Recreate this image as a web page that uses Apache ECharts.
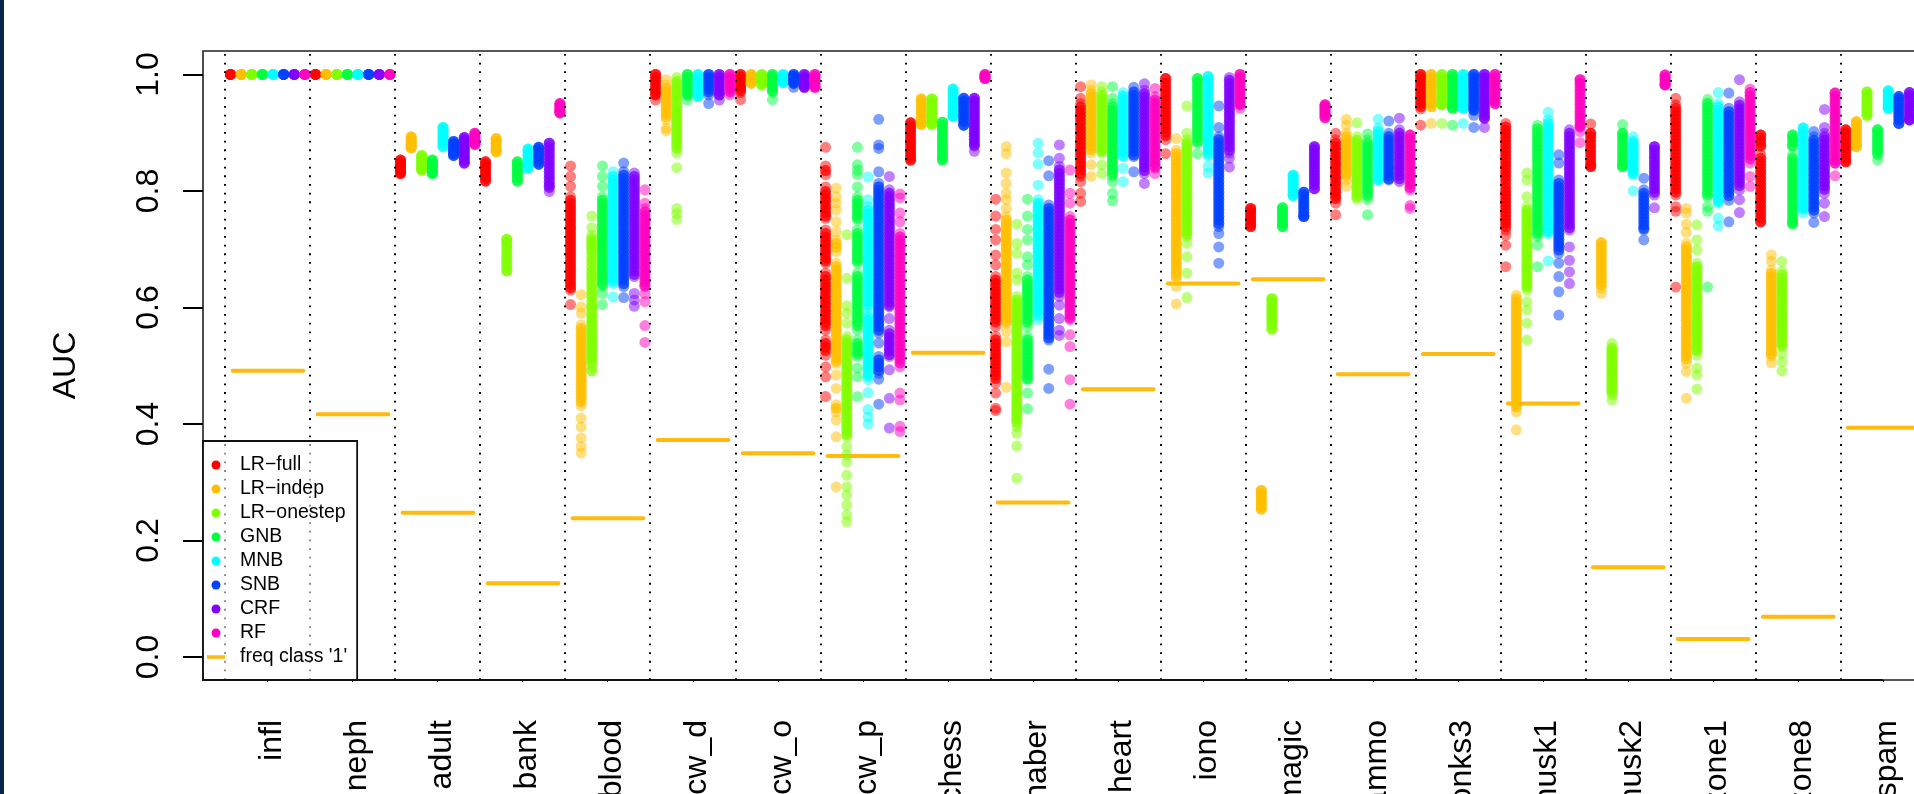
<!DOCTYPE html>
<html>
<head>
<meta charset="utf-8">
<style>
html,body{margin:0;padding:0;background:#fff;overflow:hidden}
#strip{position:absolute;left:0;top:0;width:3.5px;height:794px;background:#0a2450;z-index:5}
#main{position:absolute;left:0;top:0;width:1914px;height:794px}
</style>
<script src="https://cdn.jsdelivr.net/npm/echarts@6/dist/echarts.min.js"></script>
</head>
<body>
<div id="strip"></div>
<div id="main"></div>
<script>
const categories = ["infl","neph","adult","bank","blood","bcw_d","bcw_o","bcw_p","chess","haber","heart","iono","magic","mammo","monks3","musk1","musk2","ozone1","ozone8","spam"];
const methods = ["LR\u2212full","LR\u2212indep","LR\u2212onestep","GNB","MNB","SNB","CRF","RF"];
const methodColors = ["#FF0000","#FFBF00","#80FF00","#00FF40","#00FFFF","#0040FF","#8000FF","#FF00BF"];
const freqClass1 = [.4915,.4166,.2478,.1265,.238,.3725,.3497,.345,.5224,.265,.4595,.641,.6484,.4853,.5202,.435,.154,.031,.069,.3937];
const yTicks = [0,0.2,0.4,0.6,0.8,1];

// AUC x 1000, one list per method (order as in `methods`)
const infl = [[1000,1000,1000,1000],[1000,1000,1000,1000],[1000,1000,1000,1000],[1000,1000,1000,1000],[1000,1000,1000,1000],[1000,1000,1000,1000],[1000,1000,1000,1000],[1000,1000,1000,1000]];
const neph = [[1000,1000,1000,1000],[1000,1000,1000,1000],[1000,1000,1000,1000],[1000,1000,1000,1000],[1000,1000,1000,1000],[1000,1000,1000,1000],[1000,1000,1000,1000],[1000,1000,1000,1000]];
const adult = [
[853,853,850,847,844,841,838,835,832,830,830],
[893,893,890,887,884,881,878,876,874,874],
[861,861,858,855,852,849,846,843,840,838,836,836],
[853,853,850,847,844,841,838,835,832,830,830],
[909,909,905,901,897,893,889,885,881,876,876],
[885,885,882,879,876,873,870,867,864,861,861],
[892,892,888,884,880,876,872,868,864,860,856,852,848,848],
[899,899,896,893,890,887,884,882,880,880]];
const bank = [
[850,850,846,842,838,834,830,826,822,817,817],
[890,890,886,882,878,874,870,867,867],
[717,717,712,706,700,694,688,682,676,670,663,663],
[850,850,846,842,838,834,830,826,822,817,817],
[872,872,868,864,860,856,852,848,844,839,839],
[875,875,871,867,863,859,855,851,846,846],
[882,882,876,870,864,858,852,846,840,834,828,822,816,810,806,799],
[950,950,947,944,941,938,936,934,934]];
const blood = [
[843,825,808,790,784,778,772,766,760,754,748,742,736,730,724,718,712,706,700,694,688,682,676,670,664,658,652,646,640,634,630,605],
[622,601,590,570,564,558,552,546,540,534,528,522,516,510,504,498,492,486,480,474,468,462,456,450,444,438,431,410,395,376,361,350],
[757,737,724,718,712,706,700,693,685,678,670,662,655,648,640,632,625,618,610,603,597,590,584,578,572,566,560,554,548,542,536,530,524,518,512,506,500,491,491],
[843,825,808,790,784,778,772,766,760,754,748,742,736,730,724,718,712,706,700,694,688,682,676,670,664,658,652,646,640,636,624,605],
[833,825,819,813,807,801,795,789,783,777,771,765,759,753,747,741,735,729,723,717,711,705,699,693,687,681,675,669,663,657,651,645,641,618],
[848,833,827,821,815,809,803,797,791,785,779,773,767,761,755,749,743,737,731,725,719,713,707,701,695,689,683,677,671,665,659,653,647,641,636,617],
[831,825,819,813,807,801,795,789,783,777,771,765,759,753,747,741,735,729,723,717,711,705,699,693,687,681,675,669,663,657,653,624,613,602],
[802,779,770,764,758,752,746,740,734,728,722,716,710,704,698,692,686,680,674,668,662,656,650,644,638,636,624,610,569,540]];
const bcw_d = [
[1000,1000,995,990,985,980,975,970,965,965,956],
[991,982,976,970,964,958,952,946,940,934,928,922,908,903],
[995,988,982,976,970,964,958,952,946,940,934,928,922,916,910,904,898,892,886,880,873,865,840,770,761,751],
[1000,1000,995,990,985,980,975,970,965,965,956],
[1000,1000,995,990,985,980,975,970,966,962,962],
[1000,1000,995,990,985,980,975,970,965,950],
[1000,1000,995,990,985,980,975,970,965,965,956],
[1000,1000,995,990,985,980,975,970,965]];
const bcw_o = [
[1000,1000,996,992,988,984,980,976,972,969,957],
[1000,1000,997,994,991,988,985,985],
[1000,1000,997,994,991,988,985,982,982],
[1000,1000,996,992,988,984,980,976,972,970,957],
[1000,1000,997,994,991,988,986,986],
[1000,1000,997,994,991,988,985,985,978],
[1000,1000,996,992,988,984,980,978,978],
[1000,1000,996,992,988,984,980,978,978]];
const bcw_p = [
[875,843,835,828,807,799,793,787,781,775,769,763,757,753,733,727,721,715,709,703,697,691,685,680,676,659,653,647,641,635,629,623,617,611,605,599,593,587,581,575,569,561,544,538,532,526,518,498,481,447],
[805,790,779,767,747,730,716,710,703,696,676,670,664,658,652,646,640,634,628,622,616,610,604,598,592,586,580,574,568,562,556,550,544,538,532,526,520,514,508,504,484,461,433,427,421,407,378,292],
[725,650,603,590,573,550,544,538,532,526,520,514,508,502,496,490,484,478,472,466,460,454,448,442,436,430,424,418,412,406,400,394,388,382,378,361,347,335,312,292,278,261,244,232],
[875,845,836,828,807,790,784,778,772,766,760,754,750,733,727,721,715,709,703,697,691,685,680,676,659,653,647,641,635,629,623,617,611,605,599,593,587,581,575,569,561,544,538,532,526,520,516,496,481,447],
[824,785,773,767,761,755,749,743,737,731,725,719,713,707,701,695,689,683,677,671,665,659,653,647,641,635,629,623,617,611,605,601,590,584,578,572,566,560,554,548,542,536,530,524,518,512,506,500,494,488,482,476,454,425,412,400],
[923,879,873,833,813,807,801,795,789,783,777,771,765,759,753,747,741,735,729,723,717,711,705,699,693,687,681,675,669,663,657,651,645,639,633,627,621,615,609,603,597,591,585,579,573,567,561,556,539,516,510,504,498,492,487,477,434],
[825,802,796,790,784,778,772,766,760,754,748,742,736,730,724,718,712,706,700,694,688,682,676,670,664,658,652,646,640,634,628,622,616,610,604,601,581,561,555,549,543,537,531,525,519,516,493,444,393],
[795,788,762,747,727,721,715,709,703,697,691,685,679,673,667,661,655,649,643,637,631,625,619,613,607,601,595,589,583,577,571,565,559,553,547,541,535,529,523,517,511,505,498,453,441,396,387]];
const chess = [
[917,917,912,907,902,897,892,887,882,877,872,867,862,857,853,853],
[958,958,953,948,943,938,933,928,923,918,914,914],
[958,958,953,948,943,938,933,928,923,918,914,914],
[918,918,913,908,903,898,893,888,883,878,873,868,863,858,853,853],
[975,975,970,965,960,955,950,945,940,935,930,928,928],
[959,959,954,949,944,939,934,929,924,919,913,913],
[959,959,954,949,944,939,934,929,924,919,914,909,904,899,894,889,884,879,877,868],
[1000,1000,997,995,993,993]];
const haber = [
[786,757,734,716,690,673,653,647,641,635,629,623,617,611,605,599,593,587,581,575,567,550,544,538,532,526,520,514,508,502,496,490,484,478,470,453,427,423],
[876,864,831,813,796,785,770,756,750,744,738,732,726,720,714,708,702,696,690,684,678,672,666,660,654,648,642,636,630,624,618,612,606,600,594,588,582,576,573,559,541,463],
[743,710,693,659,647,619,613,607,601,595,589,583,577,571,565,559,553,547,541,535,529,523,517,511,505,499,493,487,481,475,469,463,457,451,445,439,433,427,421,415,409,403,395,384,362,307],
[786,757,734,716,687,673,653,647,641,635,629,623,617,611,605,599,593,587,581,575,567,550,544,538,532,526,520,514,508,502,496,490,484,478,476,453,426],
[882,865,846,810,785,779,773,767,761,755,749,743,737,731,725,719,713,707,701,695,689,683,677,671,665,659,653,647,641,635,629,623,617,611,605,599,593,587,579],
[852,826,776,770,764,758,752,746,740,734,728,722,716,710,704,698,692,686,680,674,668,662,656,650,644,638,632,626,620,614,608,602,596,590,584,578,572,566,560,554,548,544,494,461],
[879,856,842,836,830,824,818,812,806,800,794,788,782,776,770,764,758,752,746,740,734,728,722,716,710,704,698,692,686,680,674,668,662,656,650,644,638,632,626,619,604,581,561,552],
[836,796,779,756,750,744,738,732,726,720,714,708,702,696,690,684,678,672,666,660,654,648,642,636,630,624,618,612,606,600,594,588,582,579,553,533,476,434]];
const heart = [
[979,959,950,944,938,932,926,920,914,908,902,896,890,884,878,872,866,860,854,848,842,836,830,825,816,796,782],
[982,973,967,961,955,949,943,937,931,925,919,913,907,901,895,889,883,877,871,865,845,825],
[979,970,964,958,952,946,940,934,928,922,916,910,904,898,892,886,880,874,868,865,845,830],
[979,959,950,944,938,932,926,920,914,908,902,896,890,884,878,872,866,860,854,848,842,836,830,825,816,796,783],
[969,963,957,951,945,939,933,927,921,915,909,903,897,891,885,879,873,867,861,859,839,816],
[978,970,964,958,952,946,940,934,928,922,916,910,904,898,892,886,880,874,868,862,859,833],
[984,973,967,961,955,949,943,937,931,925,919,913,907,901,895,889,883,877,871,865,859,853,847,841,835,830,813],
[976,962,956,950,944,938,932,926,920,914,908,902,896,890,884,878,872,866,860,854,848,842,839,830]];
const iono = [
[993,993,985,979,973,967,961,955,949,943,937,931,925,919,913,907,901,895,888,864],
[890,870,864,858,852,846,840,834,828,822,816,810,804,798,792,786,780,774,768,762,756,750,744,738,732,726,720,714,708,702,696,690,684,678,672,666,660,654,647,636,606],
[946,899,888,882,876,870,864,858,852,846,840,834,828,822,816,810,804,798,792,786,780,774,768,762,756,750,744,738,732,726,722,710,687,659,617],
[993,993,987,981,975,969,963,957,951,945,939,933,927,921,915,909,903,897,891,885,882,864],
[997,996,990,984,978,972,966,960,954,948,942,936,930,924,918,912,906,900,894,888,882,876,870,864,859,842,831],
[946,909,893,888,882,876,870,864,858,852,846,840,834,828,822,816,810,804,798,792,786,780,774,768,762,756,750,744,739,727,704,676],
[995,990,984,978,972,966,960,954,948,942,936,930,924,918,912,906,900,894,888,882,876,870,865,856,841],
[1000,1000,995,990,985,980,975,970,965,960,955,950,948,942]];
const magic = [
[770,770,766,762,758,754,750,746,742,739,739],
[286,286,282,278,274,270,266,262,258,254,254],
[615,615,610,605,600,595,590,585,580,575,570,563,563],
[771,771,767,763,759,755,751,747,743,739,739],
[827,827,823,819,815,811,807,803,799,795,792,792],
[798,798,793,788,783,778,773,768,763,758,756,756],
[876,876,871,866,861,856,851,846,841,836,831,826,821,816,811,804,804],
[948,948,945,942,939,936,933,930,926,926]];
const mammo = [
[899,888,882,876,870,864,858,852,846,840,834,828,822,816,810,804,798,792,787,779,759],
[923,913,899,893,887,881,875,869,863,857,851,845,839,833,827,819,808],
[917,893,887,881,875,869,863,857,851,845,839,833,827,821,815,809,803,797,790,786],
[898,888,882,876,870,864,858,852,846,840,834,828,822,816,810,804,798,792,785,759],
[923,908,902,896,890,884,878,872,866,860,854,848,842,836,830,824,819,819],
[920,899,893,887,881,875,869,863,857,851,845,839,833,827,821,819],
[925,905,899,893,887,881,875,869,863,857,851,845,839,833,827,821,816],
[896,896,890,884,878,872,866,860,854,848,842,836,830,824,818,812,806,802,775,770]];
const monks3 = [
[1000,1000,995,990,985,980,975,970,965,960,955,950,945,941,913],
[1000,1000,995,990,985,980,975,970,965,960,955,950,945,945,916],
[1000,1000,995,990,985,980,975,970,965,960,955,950,948,948,916],
[1000,1000,995,990,985,980,975,970,965,960,955,950,945,942,942,913],
[1000,1000,995,990,985,980,975,970,965,960,955,950,945,942,942,916],
[1000,1000,995,990,985,980,975,970,965,960,955,950,945,939,939,930,909],
[1000,1000,995,990,985,980,975,970,965,960,955,950,945,940,935,930,925,925,909],
[1000,1000,995,990,985,980,975,970,965,960,955,950,950]];
const musk1 = [
[916,910,904,898,892,886,880,874,868,862,856,850,844,838,832,826,820,813,805,799,793,787,781,775,769,763,757,751,745,739,733,724,707,670],
[621,615,609,603,597,591,585,579,573,567,561,555,549,543,537,531,525,519,513,507,501,495,489,483,477,471,465,459,453,447,441,435,429,421,390],
[831,819,790,773,767,761,755,749,743,737,731,725,719,713,707,701,695,689,683,677,671,665,659,653,647,641,635,630,610,596,573,544],
[913,907,901,895,889,883,877,871,865,859,853,847,841,835,829,823,817,811,805,799,793,787,781,775,769,763,757,751,745,739,733,727,722,707,670],
[935,922,916,910,904,898,892,886,880,874,868,862,856,850,844,838,832,826,820,814,808,802,796,790,784,778,772,766,760,754,748,742,736,730,727,680],
[862,848,819,813,807,801,795,789,783,777,771,765,759,753,747,741,735,729,723,717,711,705,699,693,676,653,627,587],
[905,899,893,887,881,875,869,863,857,851,845,839,833,827,821,815,809,803,797,791,785,779,773,767,761,755,749,743,737,733,704,681,661,641],
[991,991,985,979,973,967,961,955,949,943,937,931,925,919,913,910,902,883]];
const musk2 = [
[915,899,899,893,887,881,875,869,863,857,851,845,842,842],
[711,711,705,699,693,687,681,675,669,663,657,651,645,639,633,624],
[538,530,525,520,515,510,505,500,495,490,485,480,475,470,465,460,455,450,441],
[914,899,899,893,887,881,875,869,863,857,851,845,842,842],
[893,885,880,875,870,865,860,855,850,845,840,835,830,828,800],
[822,802,796,790,784,778,772,766,760,754,748,742,736,733,716],
[876,876,870,864,858,852,846,840,834,828,822,816,810,804,798,793,771],
[999,999,995,991,987,983,982,982]];
const ozone1 = [
[959,948,942,936,930,924,918,912,906,900,894,888,882,876,870,864,858,852,846,840,834,828,822,816,810,804,798,793,773,765,635],
[770,762,743,729,710,704,698,692,686,680,674,668,662,656,650,644,638,632,626,620,614,608,602,596,590,584,578,572,566,560,554,548,542,536,530,524,518,512,504,490,444],
[742,716,699,676,670,664,658,652,646,640,634,628,622,616,610,604,598,592,586,580,574,568,562,556,550,544,538,532,526,518,496,484,460],
[957,950,944,938,932,926,920,914,908,902,896,890,884,878,872,866,860,854,848,842,836,830,824,818,812,806,800,794,790,773,765,635],
[969,950,944,938,932,926,920,914,908,902,896,890,884,878,872,866,860,854,848,842,836,830,824,818,812,806,800,794,788,782,779,753,740],
[968,942,936,930,924,918,912,906,900,894,888,882,876,870,864,858,852,846,840,834,828,822,816,810,804,798,792,784,747],
[991,953,947,941,935,929,923,917,911,905,899,893,887,881,875,869,863,857,851,845,839,833,827,821,815,809,802,785,763],
[975,969,963,957,951,945,939,933,927,921,915,909,903,897,891,885,879,873,867,861,855,848,825,808]];
const ozone8 = [
[896,896,890,884,878,876,862,856,850,844,838,832,826,820,814,808,802,796,790,784,778,772,766,760,754,747,747],
[690,679,664,658,652,646,640,634,628,622,616,610,604,598,592,586,580,574,568,562,556,550,544,538,532,526,520,516,505],
[679,662,656,650,644,638,632,626,620,614,608,602,596,590,584,578,572,566,560,554,548,542,536,533,521,507,491],
[896,896,890,884,878,876,862,856,850,844,838,832,826,820,814,808,802,796,790,784,778,772,766,760,754,748,744,744],
[908,908,902,896,890,884,878,872,866,860,854,848,842,836,830,824,818,812,806,800,794,788,782,776,770,770,762],
[902,893,887,881,875,869,863,857,851,845,839,833,827,821,815,809,803,797,791,785,779,773,767,762,746],
[940,909,899,893,887,881,875,869,863,857,851,845,839,833,827,821,815,809,803,796,779,756],
[968,968,962,956,950,944,938,932,926,920,914,908,902,896,890,884,878,872,866,860,854,848,848,826]];
const spam = [
[905,905,900,895,890,885,880,875,870,865,860,855,850,850],
[919,919,914,909,904,899,894,889,884,880,876,876],
[970,970,965,960,955,950,945,940,935,930,930],
[905,905,900,895,890,885,880,875,870,865,862,853],
[972,972,968,964,960,956,952,948,944,942,942],
[962,962,957,952,947,942,937,932,927,922,916,916],
[969,969,964,959,954,949,944,939,934,929,924,922,922],
[960,955,950,945,940,935,930]];

const datasets = [infl,neph,adult,bank,blood,bcw_d,bcw_o,bcw_p,chess,haber,heart,iono,magic,mammo,monks3,musk1,musk2,ozone1,ozone8,spam];

const FREQ_NAME = "freq class '1'";
const FONT = '"Liberation Sans", Arial, sans-serif';
const xMin = -0.261, xMax = 21.23, yMin = -0.0395, yMax = 1.0403;
const centers = categories.map((c, i) => i + 0.5);
const labelAt = categories.map((c, i) => i + 0.555);

const freqData = [];
freqClass1.forEach((f, i) => { freqData.push([i + 0.088, f], [i + 0.92, f], [null, null]); });

const series = [{
  name: FREQ_NAME, type: 'line', data: freqData, showSymbol: false, symbol: 'none',
  connectNulls: false, silent: true, z: 2,
  lineStyle: {color: '#FFB90F', width: 4, cap: 'round'}, itemStyle: {color: '#FFB90F'},
  markLine: {
    silent: true, symbol: 'none', z: 5, animation: false,
    label: {show: false},
    lineStyle: {color: '#000', width: 2, type: [1.8, 6.87], opacity: 1},
    data: categories.map((c, i) => ({xAxis: i}))
  }
}, {
  name: 'xAxisSpan', type: 'line', data: [[centers[0], yMin], [centers[centers.length - 1], yMin]],
  showSymbol: false, symbol: 'none', silent: true, clip: false, z: 3,
  lineStyle: {color: '#111', width: 2.2}
}];
methods.forEach((m, j) => {
  const pts = [];
  datasets.forEach((d, i) => {
    const col = d[j];
    col.forEach((v, k) => {
      pts.push([i + (j + 0.5) / 8, v / 1000]);
      // values inside a solid run are heavily overplotted in the picture: draw those twice
      const up = k > 0 && col[k - 1] - v <= 8, dn = k < col.length - 1 && v - col[k + 1] <= 8;
      if (up && dn) pts.push([i + (j + 0.5) / 8, v / 1000]);
    });
  });
  series.push({
    name: m, type: 'scatter', data: pts, symbol: 'circle', symbolSize: 11, z: 3,
    silent: true, itemStyle: {color: methodColors[j], opacity: 0.5}
  });
});

const chart = echarts.init(document.getElementById('main'), null, {renderer: 'canvas'});
chart.setOption({
  animation: false,
  backgroundColor: '#fff',
  textStyle: {fontFamily: FONT, color: '#000'},
  grid: {left: 203, top: 51, width: 1827, height: 629, show: true, borderColor: '#222', borderWidth: 1.6, backgroundColor: 'transparent', containLabel: false, outerBoundsMode: 'none'},
  xAxis: {
    type: 'value', min: xMin, max: xMax, splitLine: {show: false},
    axisLine: {show: false, onZero: false},
    axisTick: {show: true, length: 2, customValues: centers, lineStyle: {color: '#000', width: 1}},
    axisLabel: {
      show: true, rotate: 90, margin: 40, fontSize: 32, color: '#000', fontFamily: FONT,
      customValues: labelAt, hideOverlap: false, showMinLabel: true, showMaxLabel: true,
      formatter: v => categories[Math.floor(v)] || ''
    }
  },
  yAxis: {
    type: 'value', min: yMin, max: yMax, splitLine: {show: false},
    name: 'AUC', nameLocation: 'middle', nameRotate: 90, nameGap: 121,
    nameTextStyle: {fontSize: 32, color: '#000', fontFamily: FONT},
    axisLine: {show: false, onZero: false},
    axisTick: {show: true, length: 20, customValues: yTicks, lineStyle: {color: '#000', width: 2}},
    axisLabel: {
      show: true, rotate: 90, margin: 38, fontSize: 32, color: '#000', fontFamily: FONT,
      customValues: yTicks, formatter: v => v.toFixed(1)
    }
  },
  legend: {
    show: true, orient: 'vertical', left: 203, top: 441, z: 6,
    padding: [14, 10, 13, 4], itemGap: 4, itemWidth: 18, itemHeight: 9,
    backgroundColor: 'rgba(255,255,255,0.55)', borderColor: '#111', borderWidth: 1.8, borderRadius: 0,
    selectedMode: false,
    textStyle: {fontSize: 19.5, lineHeight: 20, color: '#000', padding: [0, 0, 0, 10], fontFamily: FONT},
    data: methods.map((m, j) => ({name: m, icon: 'circle', itemStyle: {color: methodColors[j], opacity: 1}}))
      .concat([{name: FREQ_NAME, icon: 'path://M0 0H18V3.5H0Z', itemStyle: {color: '#FFB90F', opacity: 1}}])
  },
  series: series
});
</script>
</body>
</html>
